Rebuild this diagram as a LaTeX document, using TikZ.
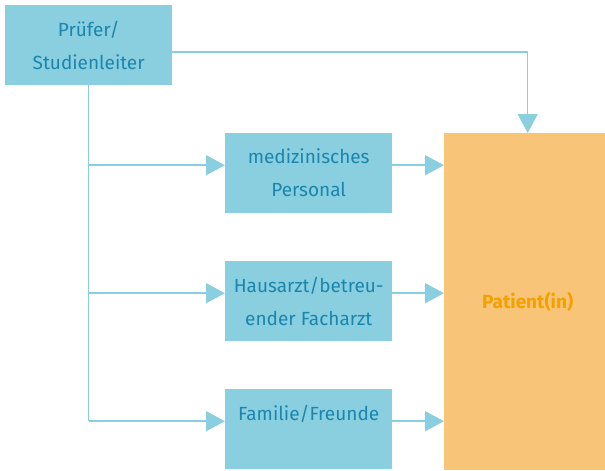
\documentclass[tikz,border=0pt]{standalone}
\usepackage{fontspec}
\setmainfont{Fira Sans}
\usetikzlibrary{arrows.meta}
\definecolor{boxblue}{HTML}{89CFE0}
\definecolor{textblue}{HTML}{1A86AD}
\definecolor{patorange}{HTML}{F8C477}
\definecolor{textorange}{HTML}{F4A100}
\begin{document}
\begin{tikzpicture}[x=1pt,y=-1pt,
  font=\fontsize{19}{33}\selectfont,
  bluebox/.style={fill=boxblue, text=textblue, minimum width=167pt,
    minimum height=80pt, inner sep=0pt, align=center, anchor=north west},
  conn/.style={draw=boxblue, line width=1.5pt},
  arr/.style={conn, -{Triangle[width=20pt,length=19pt]}}]
\useasboundingbox (0,0) rectangle (605,471);

% boxes
\node[bluebox] (pruefer) at (5,5) {Prüfer/\\Studienleiter};
\node[bluebox] (med) at (225,133) {medizinisches\\Personal};
\node[bluebox] (arzt) at (225,261) {Hausarzt/betreu-\\ender Facharzt};
\node[bluebox] (fam) at (225,389) {Familie/Freunde\\\mbox{}};
\node[fill=patorange, text=textorange, font=\fontsize{19}{33}\selectfont\bfseries,
  minimum width=167pt, minimum height=337pt, inner sep=0pt, anchor=north west]
  (patient) at (444,133) {Patient(in)};

% connector ends, slightly above box centres
\coordinate (m0) at ([yshift=8pt]med.west);
\coordinate (a0) at ([yshift=8pt]arzt.west);
\coordinate (f0) at ([yshift=8pt]fam.west);
\coordinate (m1) at ([yshift=8pt]med.east);
\coordinate (a1) at ([yshift=8pt]arzt.east);
\coordinate (f1) at ([yshift=8pt]fam.east);
\coordinate (p1) at ([yshift=-7pt]pruefer.east);

% direct line to the patient
\draw[arr] (p1) -- (p1 -| patient.north) -- (patient.north);

% trunk and branches
\draw[conn] (pruefer.south) -- (pruefer.south |- f0);
\draw[arr] (pruefer.south |- m0) -- (m0);
\draw[arr] (pruefer.south |- a0) -- (a0);
\draw[arr] (pruefer.south |- f0) -- (f0);

% to the patient
\draw[arr] (m1) -- (m1 -| patient.west);
\draw[arr] (a1) -- (a1 -| patient.west);
\draw[arr] (f1) -- (f1 -| patient.west);
\end{tikzpicture}
\end{document}
